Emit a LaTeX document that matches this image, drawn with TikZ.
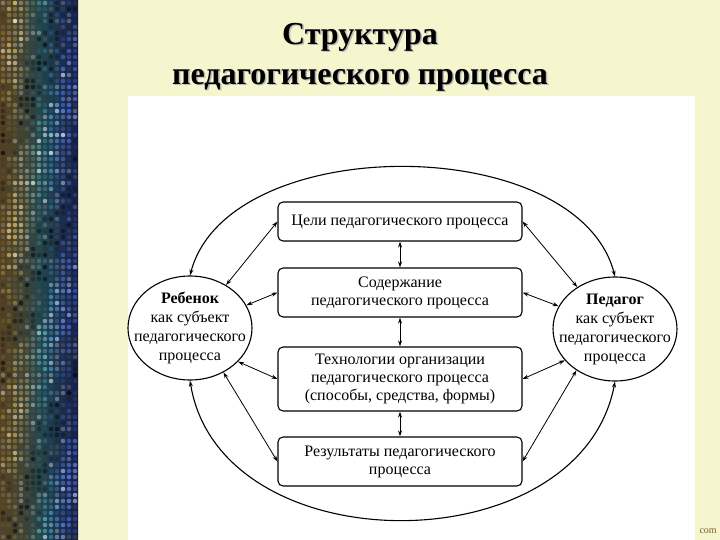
\documentclass[tikz,border=0pt]{standalone}
\usepackage{fontspec}
\setmainfont{Liberation Serif}
\usetikzlibrary{shapes.geometric,arrows.meta}
\definecolor{cream}{RGB}{246,246,206}
\definecolor{stripL}{RGB}{85,65,35}
\definecolor{stripM}{RGB}{35,70,80}
\definecolor{stripR}{RGB}{20,30,75}
\definecolor{sc0}{RGB}{150,120,60}
\definecolor{sc1}{RGB}{195,155,70}
\definecolor{sc2}{RGB}{215,180,90}
\definecolor{sc3}{RGB}{195,165,95}
\definecolor{sc4}{RGB}{155,145,95}
\definecolor{sc5}{RGB}{110,135,115}
\definecolor{sc6}{RGB}{80,145,145}
\definecolor{sc7}{RGB}{70,155,175}
\definecolor{sc8}{RGB}{60,145,185}
\definecolor{sc9}{RGB}{65,125,195}
\definecolor{sc10}{RGB}{80,115,215}
\definecolor{sc11}{RGB}{70,100,200}
\definecolor{sc12}{RGB}{55,80,170}
\tikzset{
  >={Stealth[length=6pt,width=4pt]},
  procbox/.style={draw, line width=1.1pt, rounded corners=5pt, minimum width=244pt,
    inner sep=0pt, align=center, font=\fontsize{16}{18}\selectfont},
  subj/.style={draw, line width=1.1pt, ellipse, inner sep=-30pt, minimum width=124pt,
    minimum height=104pt, align=center, font=\fontsize{16}{19}\selectfont},
  link/.style={<->, line width=0.8pt},
  arc/.style={<->, line width=1.1pt},
  titletext/.style={align=center, font=\fontsize{32}{40}\selectfont\bfseries}
}
\begin{document}
\begin{tikzpicture}[x=1pt,y=-1pt]
\useasboundingbox (0,0) rectangle (720,540);
% background
\fill[cream] (0,0) rectangle (720,540);
% decorative strip
\shade[left color=stripL, right color=stripR, middle color=stripM] (0,0) rectangle (78,540);
\pgfmathsetseed{11}
\foreach \i in {0,...,12}{
  \foreach \j in {0,...,89}{
    \pgfmathsetmacro\p{int(15+45*rnd+40*(0.5+0.5*sin(\j*11+\i*25)))}
    \pgfmathsetmacro\w{int(60*(rnd)^3)}
    \fill[fill={white!\w!sc\i!\p!black}] (\i*6+3,\j*6+3) circle (2.3);
  }
}
% title
\node[titletext, text=gray!55] (Tsh) at (361.5,58.5) {Структура\\педагогического процесса};
\node[titletext] (T) at (360,57) {Структура\\педагогического процесса};
% white panel
\fill[white] (128,96) rectangle (695,540);
\node[text=brown!70!black, font=\fontsize{10}{12}\selectfont, anchor=west] (wm) at (696,531) {com};
% boxes
\node[procbox, minimum height=39pt] (B1) at (400,221.5) {Цели педагогического процесса};
\node[procbox, minimum height=49pt] (B2) at (400,292.5) {Содержание\\педагогического процесса};
\node[procbox, minimum height=64pt] (B3) at (400,379) {Технологии организации\\педагогического процесса\\(способы, средства, формы)};
\node[procbox, minimum height=49pt] (B4) at (400,461.5) {Результаты педагогического\\процесса};
% subjects
\node[subj] (L) at (190,328) {\textbf{Ребенок}\\как субъект\\педагогического\\процесса};
\node[subj] (R) at (615,329) {\textbf{Педагог}\\как субъект\\педагогического\\процесса};
% vertical links
\draw[link] (B1.south) -- (B2.north);
\draw[link] (B2.south) -- (B3.north);
\draw[link] (B3.south) -- (B4.north);
% side links
\draw[link] (L.50) -- (B1.west);
\draw[link] (L.22) -- (B2.west);
\draw[link] (L.-35) -- (B3.west);
\draw[link] (L.-53) -- (B4.west);
\draw[link] (R.132) -- (B1.east);
\draw[link] (R.158) -- (B2.east);
\draw[link] (R.212) -- (B3.east);
\draw[link] (R.227) -- (B4.east);
% big arcs
\draw[arc] (L.north) .. controls (228,131) and (577,131) .. (R.north);
\draw[arc] (L.south) .. controls (220,566) and (580,566) .. (R.south);
\end{tikzpicture}
\end{document}
